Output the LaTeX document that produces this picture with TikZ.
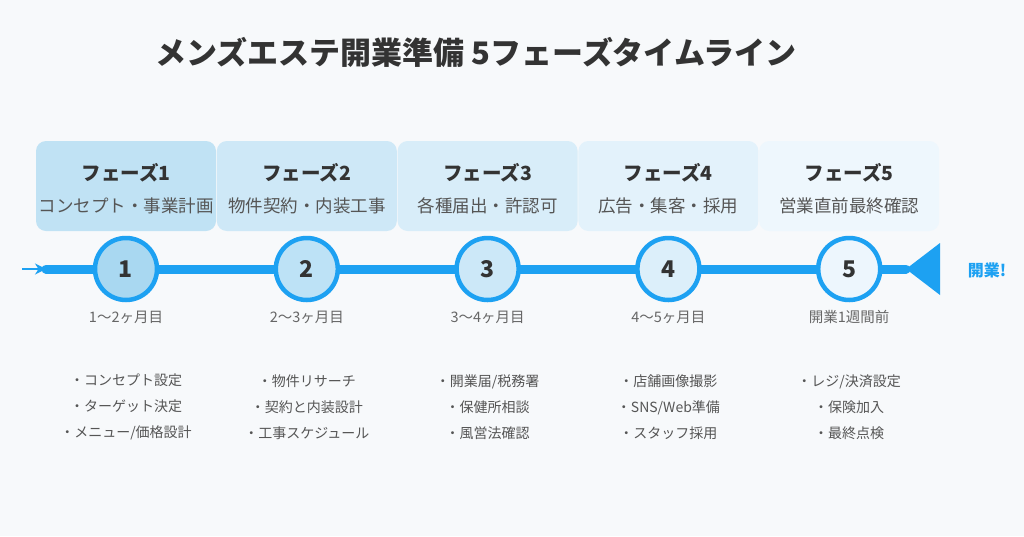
\documentclass[tikz,border=0pt]{standalone}
\usepackage{fontspec}
\setmainfont{Noto Sans CJK JP}
\usepackage{xcolor}
\usetikzlibrary{arrows.meta}
\definecolor{pagebg}{HTML}{F7F9FB}
\definecolor{lineblue}{HTML}{1DA1F2}
\definecolor{darktext}{HTML}{333333}
\definecolor{subtext}{HTML}{555555}
\definecolor{whentext}{HTML}{666666}
\definecolor{box1}{HTML}{C0E2F4}
\definecolor{box2}{HTML}{CEE8F7}
\definecolor{box3}{HTML}{D8EDF9}
\definecolor{box4}{HTML}{E3F2FB}
\definecolor{box5}{HTML}{EEF7FD}
\definecolor{dot1}{HTML}{A9D8F1}
\definecolor{dot2}{HTML}{BDE2F6}
\definecolor{dot3}{HTML}{CCE8F8}
\definecolor{dot4}{HTML}{DCEFFA}
\definecolor{dot5}{HTML}{EDF6FD}
\tikzset{phasebox/.style={rounded corners=10pt, minimum width=180pt, minimum height=90pt, inner sep=0pt}}
\tikzset{phasetitle/.style={font=\fontsize{19.5}{22}\selectfont\bfseries, text=darktext}}
\tikzset{phasesub/.style={font=\fontsize{17.5}{20}\selectfont, text=subtext}}
\tikzset{stepdot/.style={circle, draw=lineblue, line width=4.5pt, minimum size=62pt, inner sep=0pt, font=\fontsize{23}{26}\selectfont\bfseries, text=darktext}}
\tikzset{whenlabel/.style={font=\fontsize{14.5}{17}\selectfont, text=whentext}}
\tikzset{todolist/.style={align=center, font=\fontsize{14}{26}\selectfont, text=subtext}}

\begin{document}
\begin{tikzpicture}[x=1pt, y=-1pt]
  \useasboundingbox (0,0) rectangle (1024,536);
  \fill [pagebg] (0,0) rectangle (1024,536);
  \node [font=\fontsize{31}{36}\selectfont\bfseries, text=darktext] (title) at (476,52) {メンズエステ開業準備 5フェーズタイムライン};
  % timeline
  \coordinate (tail) at (22,269);
  \coordinate (start) at (46,269);
  \coordinate (finish) at (906,269);
  \draw [lineblue, line width=2pt, -{Stealth[length=11pt, width=11pt]}] (tail) -- (start);
  \draw [lineblue, line width=9pt, line cap=round] (start) -- (finish);
  \fill [lineblue] (finish) -- (940,243) -- (940,295) -- cycle;
  \node [font=\fontsize{16}{18}\selectfont\bfseries, text=lineblue] (open) at (987,270) {開業!};
  \foreach \i/\sub/\when/\todo in {
      1/{コンセプト・事業計画}/{1〜2ヶ月目}/{・コンセプト設定\\・ターゲット決定\\・メニュー/価格設計},
      2/{物件契約・内装工事}/{2〜3ヶ月目}/{・物件リサーチ\\・契約と内装設計\\・工事スケジュール},
      3/{各種届出・許認可}/{3〜4ヶ月目}/{・開業届/税務署\\・保健所相談\\・風営法確認},
      4/{広告・集客・採用}/{4〜5ヶ月目}/{・店舗画像撮影\\・SNS/Web準備\\・スタッフ採用},
      5/{営業直前最終確認}/{開業1週間前}/{・レジ/決済設定\\・保険加入\\・最終点検}} {
    \pgfmathsetmacro{\x}{126+180.8*(\i-1)}
    \node [phasebox, fill=box\i] (box\i) at (\x,186) {};
    \node [phasetitle] (name\i) at (\x,173) {フェーズ\i};
    \node [phasesub] (sub\i) at (\x,206) {\sub};
    \node [stepdot, fill=dot\i] (dot\i) at (\x,269) {\i};
    \node [whenlabel] (when\i) at (\x,317) {\when};
    \node [todolist] (todo\i) at (\x,407) {\todo};
  }
\end{tikzpicture}
\end{document}
